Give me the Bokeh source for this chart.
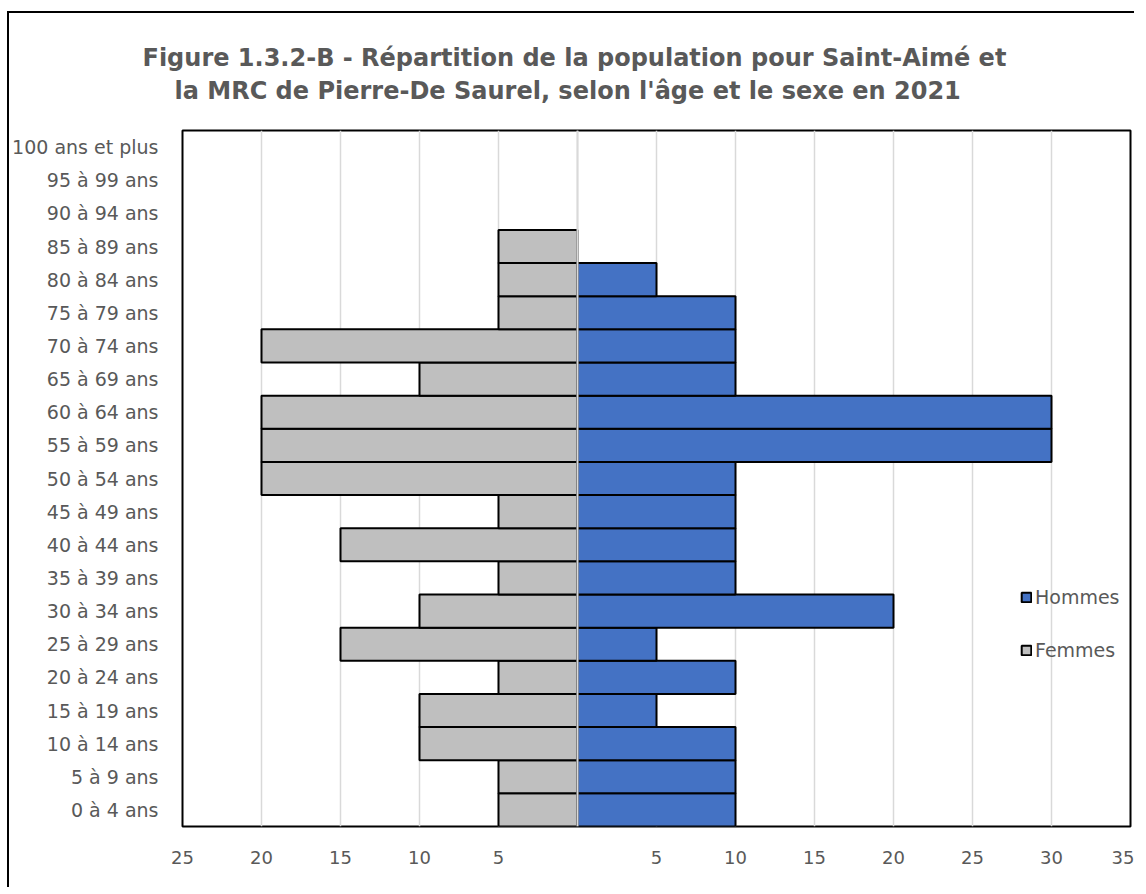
from bokeh.plotting import figure
from bokeh.models import ColumnDataSource, FactorRange, Legend, LegendItem, Span, FixedTicker, Title
from bokeh.embed import file_html
from bokeh.resources import INLINE

# ---- data ----
age_groups = ["0 à 4 ans", "5 à 9 ans", "10 à 14 ans", "15 à 19 ans", "20 à 24 ans",
              "25 à 29 ans", "30 à 34 ans", "35 à 39 ans", "40 à 44 ans", "45 à 49 ans",
              "50 à 54 ans", "55 à 59 ans", "60 à 64 ans", "65 à 69 ans", "70 à 74 ans",
              "75 à 79 ans", "80 à 84 ans", "85 à 89 ans", "90 à 94 ans", "95 à 99 ans",
              "100 ans et plus"]
hommes = [10, 10, 10, 5, 10, 5, 20, 10, 10, 10, 10, 30, 30, 10, 10, 10, 5, 0, 0, 0, 0]
femmes = [5, 5, 10, 10, 5, 15, 10, 5, 15, 5, 20, 20, 20, 10, 20, 5, 5, 5, 0, 0, 0]
x_ticks = [-25, -20, -15, -10, -5, 0, 5, 10, 15, 20, 25, 30, 35]
title_line1 = "Figure 1.3.2-B - Répartition de la population pour Saint-Aimé et"
title_line2 = "la MRC de Pierre-De Saurel, selon l'âge et le sexe en 2021"

FONT = "DejaVu Sans"
GREY_TXT = "#595959"

h_src = ColumnDataSource(dict(
    y=[a for a, v in zip(age_groups, hommes) if v > 0],
    right=[v for v in hommes if v > 0]))
f_src = ColumnDataSource(dict(
    y=[a for a, v in zip(age_groups, femmes) if v > 0],
    left=[-v for v in femmes if v > 0]))

p = figure(width=1127, height=876, output_backend="svg", toolbar_location=None,
           y_range=FactorRange(factors=age_groups, range_padding=0),
           x_range=(-25, 35),
           min_border_left=169, min_border_right=6, min_border_top=117, min_border_bottom=63)
p.styles = {"border-left": "2px solid black", "border-top": "2px solid black",
            "margin-left": "7px", "margin-top": "11px"}

# title: the panel added last is the one closest to the frame
t1 = p.title
t1.text = title_line1
t2 = Title(text=title_line2)
for t in (t1, t2):
    t.align = "left"
    t.text_font = FONT
    t.text_font_size = "24px"
    t.text_font_style = "bold"
    t.text_color = GREY_TXT
t1.offset = -40
t2.offset = -8
t1.standoff = -45
t2.standoff = 51
p.add_layout(t2, "above")

p.outline_line_color = "black"
p.outline_line_width = 2

fb = p.hbar(y="y", left="left", right=0, height=1.0, source=f_src,
            fill_color="#BFBFBF", line_color="black", line_width=2)
hb = p.hbar(y="y", left=0, right="right", height=1.0, source=h_src,
            fill_color="#4472C4", line_color="black", line_width=2)

p.add_layout(Span(location=0, dimension="height", line_color="#D9D9D9", line_width=2))

p.xaxis.ticker = FixedTicker(ticks=x_ticks)
p.xaxis.major_label_overrides = {t: ("" if t == 0 else str(abs(t))) for t in x_ticks}
for ax in (p.xaxis, p.yaxis):
    ax.axis_line_color = None
    ax.major_tick_line_color = None
    ax.minor_tick_line_color = None
    ax.major_label_text_font = FONT
    ax.major_label_text_font_size = "18px"
    ax.major_label_text_color = GREY_TXT
p.yaxis.major_label_text_font_size = "19px"
p.xaxis.major_label_standoff = 18
p.yaxis.major_label_standoff = 18

p.xgrid.grid_line_color = "#D9D9D9"
p.xgrid.grid_line_width = 1.5
p.ygrid.grid_line_color = None

legend = Legend(items=[LegendItem(label="Hommes", renderers=[hb]),
                       LegendItem(label="Femmes", renderers=[fb])],
                location=(838, 165))
legend.background_fill_alpha = 0
legend.border_line_color = None
legend.label_text_font = FONT
legend.label_text_font_size = "19px"
legend.label_text_color = GREY_TXT
legend.glyph_width = 12
legend.glyph_height = 12
legend.spacing = 31
legend.label_standoff = 3
legend.padding = 0
legend.margin = 0
p.add_layout(legend, "center")

open("out.html", "w").write(file_html(p, INLINE))
